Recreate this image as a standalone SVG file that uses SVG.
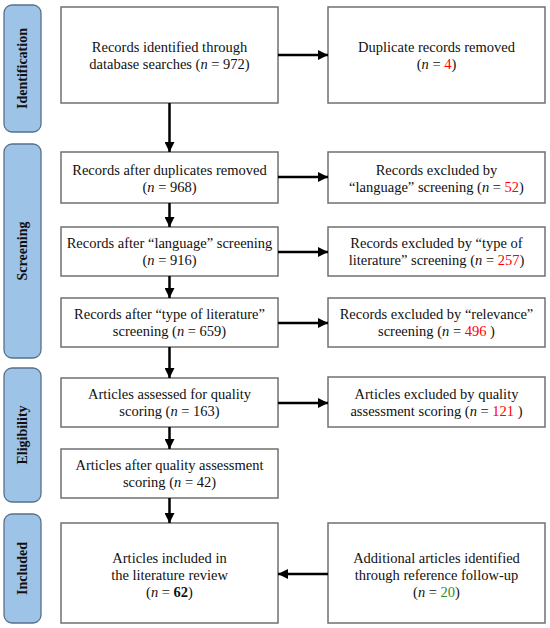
<svg xmlns="http://www.w3.org/2000/svg" width="550" height="628" viewBox="0 0 550 628">
<style>
.box{fill:#fff;stroke:#707070;stroke-width:1.5}
.side{fill:#9dc3e6;stroke:#56718d;stroke-width:1.3}
text{font-family:'Liberation Serif','Times New Roman','DejaVu Serif',serif}
.t{font-size:14.5px;fill:#111;text-anchor:middle}
.s{font-size:14px;font-weight:bold;fill:#111;text-anchor:middle}
.r{fill:#ff0000}
.g{fill:#2e8b2e}
.c{stroke:#000;stroke-width:2.5;fill:none;marker-end:url(#ah)}
</style>
<defs>
<marker id="ah" markerUnits="userSpaceOnUse" markerWidth="10" markerHeight="10" refX="10" refY="5" orient="auto" viewBox="0 0 10 10">
<path d="M0,0 L10,5 L0,10 z" fill="#000"/>
</marker>
</defs>
<rect width="550" height="628" fill="#fff"/>
<g font-family="Liberation Serif, Times New Roman, serif">
<g id="phase-identification"><rect class="side" x="4" y="5" width="37" height="127" rx="8"/><text class="s" font-family="Liberation Serif, serif" transform="translate(27,68.5) rotate(-90)">Identification</text></g>
<g id="phase-screening"><rect class="side" x="4" y="144" width="37" height="214" rx="8"/><text class="s" font-family="Liberation Serif, serif" transform="translate(27,251) rotate(-90)">Screening</text></g>
<g id="phase-eligibility"><rect class="side" x="4" y="368" width="37" height="134" rx="8"/><text class="s" font-family="Liberation Serif, serif" transform="translate(27,435) rotate(-90)">Eligibility</text></g>
<g id="phase-included"><rect class="side" x="4" y="514" width="37" height="109" rx="8"/><text class="s" font-family="Liberation Serif, serif" transform="translate(27,568.5) rotate(-90)">Included</text></g>

<g id="n1"><rect class="box" x="61" y="7" width="217" height="96"/><text class="t" x="169.5" y="52">Records identified through</text><text class="t" x="169.5" y="69">database searches (<tspan font-style="italic">n</tspan> = 972)</text></g>
<g id="n2"><rect class="box" x="328" y="7" width="217" height="96"/><text class="t" x="436.5" y="52">Duplicate records removed</text><text class="t" x="436.5" y="69">(<tspan font-style="italic">n</tspan> = <tspan class="r">4</tspan>)</text></g>

<g id="n3"><rect class="box" x="61" y="152" width="217" height="51"/><text class="t" x="169.5" y="174.5">Records after duplicates removed</text><text class="t" x="169.5" y="191.5">(<tspan font-style="italic">n</tspan> = 968)</text></g>
<g id="n4"><rect class="box" x="328" y="152" width="217" height="51"/><text class="t" x="436.5" y="174.5">Records excluded by</text><text class="t" x="436.5" y="191.5">“language” screening (<tspan font-style="italic">n</tspan> = <tspan class="r">52</tspan>)</text></g>

<g id="n5"><rect class="box" x="61" y="227" width="217" height="49"/><text class="t" x="169.5" y="248">Records after “language” screening</text><text class="t" x="169.5" y="265">(<tspan font-style="italic">n</tspan> = 916)</text></g>
<g id="n6"><rect class="box" x="328" y="227" width="217" height="49"/><text class="t" x="436.5" y="248">Records excluded by “type of</text><text class="t" x="436.5" y="265">literature” screening (<tspan font-style="italic">n</tspan> = <tspan class="r">257</tspan>)</text></g>

<g id="n7"><rect class="box" x="61" y="298" width="217" height="49"/><text class="t" x="169.5" y="319">Records after “type of literature”</text><text class="t" x="169.5" y="336">screening (<tspan font-style="italic">n</tspan> = 659)</text></g>
<g id="n8"><rect class="box" x="328" y="298" width="217" height="49"/><text class="t" x="436.5" y="319">Records excluded by “relevance”</text><text class="t" x="436.5" y="336">screening (<tspan font-style="italic">n</tspan> = <tspan class="r">496</tspan> )</text></g>

<g id="n9"><rect class="box" x="61" y="378" width="217" height="49"/><text class="t" x="169.5" y="399">Articles assessed for quality</text><text class="t" x="169.5" y="416">scoring (<tspan font-style="italic">n</tspan> = 163)</text></g>
<g id="n10"><rect class="box" x="328" y="377" width="217" height="50"/><text class="t" x="436.5" y="398.5">Articles excluded by quality</text><text class="t" x="436.5" y="415.5">assessment scoring (<tspan font-style="italic">n</tspan> = <tspan class="r">121</tspan> )</text></g>

<g id="n11"><rect class="box" x="61" y="449" width="217" height="49"/><text class="t" x="169.5" y="470">Articles after quality assessment</text><text class="t" x="169.5" y="487">scoring (<tspan font-style="italic">n</tspan> = 42)</text></g>

<g id="n12"><rect class="box" x="61" y="523" width="217" height="100"/><text class="t" x="169.5" y="563">Articles included in</text><text class="t" x="169.5" y="580">the literature review</text><text class="t" x="169.5" y="597">(<tspan font-style="italic">n</tspan> = <tspan font-weight="bold">62</tspan>)</text></g>
<g id="n13"><rect class="box" x="328" y="523" width="217" height="100"/><text class="t" x="436.5" y="563">Additional articles identified</text><text class="t" x="436.5" y="580">through reference follow-up</text><text class="t" x="436.5" y="597">(<tspan font-style="italic">n</tspan> = <tspan class="g">20</tspan>)</text></g>
</g>
<g id="connectors">
<line class="c" x1="278" y1="55" x2="328" y2="55"/>
<line class="c" x1="278" y1="177" x2="328" y2="177"/>
<line class="c" x1="278" y1="252" x2="328" y2="252"/>
<line class="c" x1="278" y1="323" x2="328" y2="323"/>
<line class="c" x1="278" y1="403" x2="328" y2="403"/>
<line class="c" x1="328" y1="574" x2="278" y2="574"/>
<line class="c" x1="169.5" y1="103" x2="169.5" y2="152"/>
<line class="c" x1="169.5" y1="203" x2="169.5" y2="227"/>
<line class="c" x1="169.5" y1="276" x2="169.5" y2="298"/>
<line class="c" x1="169.5" y1="347" x2="169.5" y2="378"/>
<line class="c" x1="169.5" y1="427" x2="169.5" y2="449"/>
<line class="c" x1="169.5" y1="498" x2="169.5" y2="523"/>
</g>
</svg>
